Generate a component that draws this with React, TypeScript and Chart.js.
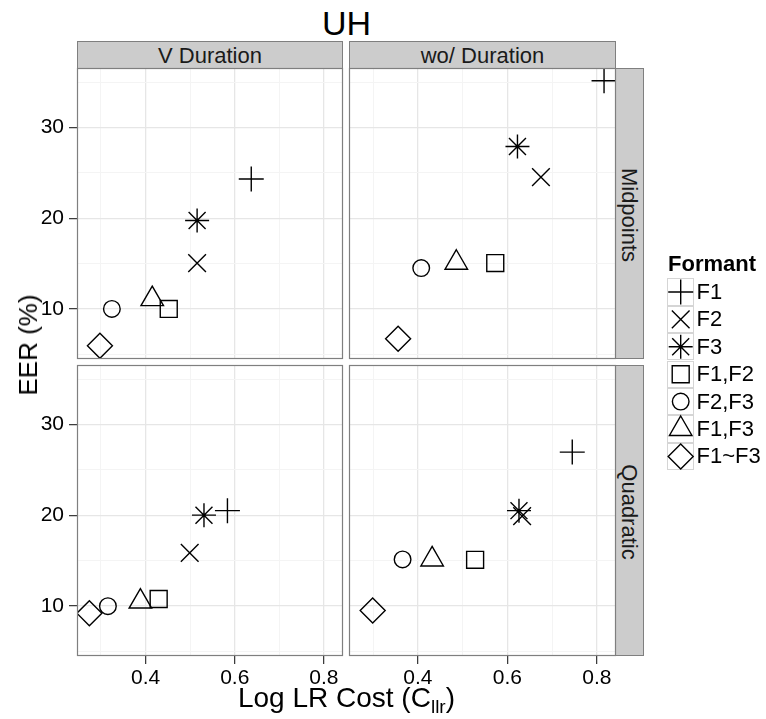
import React, { useEffect, useRef } from 'react';
import { Chart, registerables } from 'chart.js';

Chart.register(...registerables);

// ---------------- data ----------------
const formants = ['F1', 'F2', 'F3', 'F1,F2', 'F2,F3', 'F1,F3', 'F1~F3'];
const columnLabels = ['V Duration', 'wo/ Duration'];
const rowLabels = ['Midpoints', 'Quadratic'];

// Midpoints, V Duration
const midVDurCost = [0.637, 0.5156, 0.5156, 0.452, 0.3245, 0.415, 0.2977];
const midVDurEER = [24.31, 15.05, 19.75, 10.0, 10.0, 11.08, 5.93];
// Midpoints, wo/ Duration
const midNoDurCost = [0.816, 0.675, 0.6226, 0.573, 0.4076, 0.486, 0.356];
const midNoDurEER = [35.15, 24.53, 27.9, 15.05, 14.5, 15.09, 6.7];
// Quadratic, V Duration
const quadVDurCost = [0.5836, 0.499, 0.531, 0.4294, 0.3156, 0.3884, 0.274];
const quadVDurEER = [20.5, 15.85, 20.0, 10.76, 9.97, 10.48, 9.2];
// Quadratic, wo/ Duration
const quadNoDurCost = [0.745, 0.633, 0.626, 0.528, 0.366, 0.432, 0.2992];
const quadNoDurEER = [26.95, 19.9, 20.5, 15.08, 15.12, 15.12, 9.49];

const xTicks = [0.3, 0.4, 0.5, 0.6, 0.7, 0.8];
const xMajorTicks = [0.4, 0.6, 0.8];
const yTicks = [5, 10, 15, 20, 25, 30, 35];
const yMajorTicks = [10, 20, 30];
const xLimits = [0.2463, 0.8427];
const yLimits = [4.48, 36.55];

// ---------------- styles ----------------
const W = 766;
const H = 719;
const FONT = '"Liberation Sans", Arial, Helvetica, sans-serif';
const shapes = ['cross', 'crossRot', 'star', 'rect', 'circle', 'triangle', 'rectRot'];
const radii = [12.5, 12.5, 12, 12, 8.3, 13, 12.5];
const colX = [
  [77, 343],
  [349, 616],
];
const rowY = [
  [68, 359],
  [365, 656],
];

Chart.defaults.font.family = FONT;

const isMajor = (v: number, majors: number[]) => majors.some((m) => Math.abs(m - v) < 1e-9);

const borderPlugin = {
  id: 'panelBorder',
  afterDraw(chart: any) {
    const { ctx, chartArea: a } = chart;
    ctx.save();
    ctx.strokeStyle = '#7F7F7F';
    ctx.lineWidth = 1.2;
    ctx.strokeRect(a.left + 0.5, a.top + 0.5, a.right - a.left - 1, a.bottom - a.top - 1);
    ctx.restore();
  },
};

function makeDatasets(xs: number[], ys: number[]) {
  return formants.map((f, i) => ({
    label: f,
    data: [{ x: xs[i], y: ys[i] }],
    pointStyle: shapes[i],
    pointRadius: radii[i],
    pointBorderColor: '#000',
    pointBackgroundColor: 'rgba(0,0,0,0)',
    pointBorderWidth: 1.4,
    clip: 0,
  }));
}

function Panel(props: { xs: number[]; ys: number[]; col: number; row: number; showY: boolean; showX: boolean }) {
  const ref = useRef<HTMLCanvasElement>(null);
  const { xs, ys, col, row, showY, showX } = props;
  useEffect(() => {
    const [l, r] = colX[col];
    const [t, b] = rowY[row];
    const gridColor = (majors: number[]) => (c: any) =>
      c.tick && isMajor(c.tick.value, majors) ? '#E6E6E6' : '#F4F4F4';
    const gridWidth = (majors: number[]) => (c: any) => (c.tick && isMajor(c.tick.value, majors) ? 1.3 : 1);
    const tickColor = (majors: number[]) => (c: any) =>
      c.tick && isMajor(c.tick.value, majors) ? '#333333' : 'rgba(0,0,0,0)';
    // the axis boxes occupy the space outside the panel (so labels are not clipped)
    const yAxisWidth = showY ? l : 0;
    const xAxisHeight = showX ? H - b : 0;
    const chart = new Chart(ref.current as HTMLCanvasElement, {
      type: 'scatter',
      data: { datasets: makeDatasets(xs, ys) as any },
      options: {
        responsive: false,
        animation: false,
        devicePixelRatio: 1,
        events: [],
        layout: {
          padding: {
            left: l - yAxisWidth,
            right: W - r,
            top: t,
            bottom: H - b - xAxisHeight,
          },
        },
        plugins: { legend: { display: false }, tooltip: { enabled: false } },
        scales: {
          x: {
            type: 'linear',
            min: xLimits[0],
            max: xLimits[1],
            afterBuildTicks: (s: any) => {
              s.ticks = xTicks.map((v) => ({ value: v }));
            },
            afterFit: (s: any) => {
              s.height = xAxisHeight;
              s.paddingLeft = 0;
              s.paddingRight = 0;
              s.paddingTop = 0;
              s.paddingBottom = 0;
            },
            border: { display: false },
            grid: {
              color: gridColor(xMajorTicks),
              lineWidth: gridWidth(xMajorTicks),
              drawTicks: showX,
              tickLength: 8,
              tickColor: tickColor(xMajorTicks),
              tickWidth: 1.2,
            },
            ticks: {
              display: showX,
              padding: 2,
              color: '#000',
              font: { size: 21, family: FONT },
              maxRotation: 0,
              autoSkip: false,
              callback: (v: any) => (isMajor(Number(v), xMajorTicks) ? Number(v).toFixed(1) : ''),
            },
          },
          y: {
            type: 'linear',
            min: yLimits[0],
            max: yLimits[1],
            afterBuildTicks: (s: any) => {
              s.ticks = yTicks.map((v) => ({ value: v }));
            },
            afterFit: (s: any) => {
              s.width = yAxisWidth;
              s.paddingLeft = 0;
              s.paddingRight = 0;
              s.paddingTop = 0;
              s.paddingBottom = 0;
            },
            border: { display: false },
            grid: {
              color: gridColor(yMajorTicks),
              lineWidth: gridWidth(yMajorTicks),
              drawTicks: showY,
              tickLength: 8,
              tickColor: tickColor(yMajorTicks),
              tickWidth: 1.2,
            },
            ticks: {
              display: showY,
              padding: 5,
              color: '#000',
              font: { size: 21, family: FONT },
              autoSkip: false,
              callback: (v: any) => (isMajor(Number(v), yMajorTicks) ? String(v) : ''),
            },
          },
        },
      },
      plugins: [borderPlugin],
    });
    return () => chart.destroy();
  }, []);
  return <canvas ref={ref} width={W} height={H} style={{ position: 'absolute', left: 0, top: 0 }} />;
}

const legendLeft = 667;
const legendTop = 278.3;
const keySize = 27.4;

function LegendSymbols() {
  const ref = useRef<HTMLCanvasElement>(null);
  useEffect(() => {
    const l = legendLeft;
    const t = legendTop;
    const chart = new Chart(ref.current as HTMLCanvasElement, {
      type: 'scatter',
      data: {
        datasets: formants.map((f, i) => ({
          label: f,
          data: [{ x: 0, y: i }],
          pointStyle: shapes[i],
          pointRadius: radii[i],
          pointBorderColor: '#000',
          pointBackgroundColor: 'rgba(0,0,0,0)',
          pointBorderWidth: 1.4,
          clip: false,
        })) as any,
      },
      options: {
        responsive: false,
        animation: false,
        devicePixelRatio: 1,
        events: [],
        layout: {
          padding: { left: l, right: W - (l + keySize), top: t, bottom: H - (t + keySize * formants.length) },
        },
        plugins: { legend: { display: false }, tooltip: { enabled: false } },
        scales: {
          x: { type: 'linear', min: -1, max: 1, display: false },
          y: { type: 'linear', min: -0.5, max: formants.length - 0.5, reverse: true, display: false },
        },
      },
    });
    return () => chart.destroy();
  }, []);
  return <canvas ref={ref} width={W} height={H} style={{ position: 'absolute', left: 0, top: 0 }} />;
}

const abs = (s: React.CSSProperties): React.CSSProperties => ({ position: 'absolute', ...s });

export default function App() {
  const panelData = [
    [midVDurCost, midVDurEER, midNoDurCost, midNoDurEER],
    [quadVDurCost, quadVDurEER, quadNoDurCost, quadNoDurEER],
  ];
  return (
    <div
      style={{
        position: 'fixed',
        left: 0,
        top: 0,
        width: W,
        height: H,
        background: '#fff',
        fontFamily: FONT,
        overflow: 'hidden',
      }}
    >
      {/* title */}
      <div style={abs({ left: 0, width: 693, top: 5.5, fontSize: 34, lineHeight: '34px', textAlign: 'center', color: '#000' })}>
        UH
      </div>

      {/* column strips */}
      {columnLabels.map((c, i) => (
        <div
          key={c}
          style={abs({
            left: colX[i][0],
            top: 41,
            width: colX[i][1] - colX[i][0],
            height: 27,
            boxSizing: 'border-box',
            background: '#CCCCCC',
            border: '1px solid #7F7F7F',
            borderBottom: 'none',
          })}
        >
          <div style={abs({ left: 0, right: 0, top: 3, fontSize: 22, lineHeight: '22px', textAlign: 'center', color: '#1A1A1A' })}>{c}</div>
        </div>
      ))}

      {/* row strips */}
      {rowLabels.map((r, i) => (
        <div
          key={r}
          style={abs({
            left: 616,
            top: rowY[i][0],
            width: 28,
            height: rowY[i][1] - rowY[i][0],
            boxSizing: 'border-box',
            background: '#CCCCCC',
            border: '1px solid #7F7F7F',
            borderLeft: 'none',
          })}
        >
          <div
            style={abs({
              left: 13,
              top: (rowY[i][1] - rowY[i][0]) / 2,
              transform: 'translate(-50%, -50%) rotate(90deg)',
              fontSize: 22,
              lineHeight: '22px',
              whiteSpace: 'nowrap',
              color: '#1A1A1A',
            })}
          >
            {r}
          </div>
        </div>
      ))}

      {/* panels */}
      {[0, 1].map((row) =>
        [0, 1].map((col) => (
          <Panel
            key={`${row}-${col}`}
            xs={panelData[row][col * 2]}
            ys={panelData[row][col * 2 + 1]}
            col={col}
            row={row}
            showY={col === 0}
            showX={row === 1}
          />
        ))
      )}

      {/* axis titles */}
      <div
        style={abs({
          left: 28,
          top: 345,
          transform: 'translate(-50%, -50%) rotate(-90deg)',
          fontSize: 26,
          lineHeight: '26px',
          whiteSpace: 'nowrap',
          color: '#000',
        })}
      >
        EER (%)
      </div>
      <div style={abs({ left: 0, width: 693, top: 684, fontSize: 28, lineHeight: '28px', textAlign: 'center', whiteSpace: 'nowrap', color: '#000' })}>
        Log LR Cost (C<span style={{ fontSize: 19, verticalAlign: -6 }}>llr</span>)
      </div>

      {/* legend */}
      <div style={abs({ left: 668, top: 252.5, fontSize: 22, lineHeight: '22px', fontWeight: 'bold', color: '#000' })}>Formant</div>
      {formants.map((f, i) => (
        <div
          key={f}
          style={abs({
            left: legendLeft,
            top: legendTop + i * keySize,
            width: keySize,
            height: keySize,
            boxSizing: 'border-box',
            border: '1px solid #D5D5D5',
            background: '#fff',
          })}
        />
      ))}
      <LegendSymbols />
      {formants.map((f, i) => (
        <div
          key={'lab' + f}
          style={abs({
            left: 696.5,
            top: legendTop + i * keySize + keySize / 2 - 11,
            fontSize: 22,
            lineHeight: '22px',
            whiteSpace: 'nowrap',
            color: '#000',
          })}
        >
          {f}
        </div>
      ))}
    </div>
  );
}
